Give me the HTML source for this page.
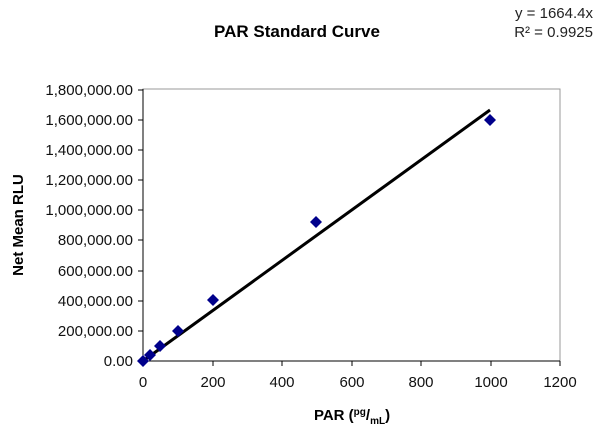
<!DOCTYPE html><html><head><style>body{margin:0;background:#fff}</style></head><body>
<svg width="600" height="431" xmlns="http://www.w3.org/2000/svg" font-family="Liberation Sans, Arial, sans-serif">
<rect width="600" height="431" fill="#fff"/>
<text x="297" y="37" font-size="17" font-weight="bold" text-anchor="middle">PAR Standard Curve</text>
<text x="593" y="18" font-size="15" text-anchor="end" fill="#222">y = 1664.4x</text>
<text x="593" y="37" font-size="15" text-anchor="end" fill="#222">R² = 0.9925</text>
<rect x="143" y="89" width="417" height="272" fill="none" stroke="#999" stroke-width="1"/>
<g stroke="#000" stroke-width="1">
<line x1="143" y1="89" x2="143" y2="361"/><line x1="143" y1="361" x2="560" y2="361"/>
<line x1="138" y1="361" x2="143" y2="361"/><line x1="138" y1="331" x2="143" y2="331"/><line x1="138" y1="301" x2="143" y2="301"/><line x1="138" y1="271" x2="143" y2="271"/><line x1="138" y1="240" x2="143" y2="240"/><line x1="138" y1="210" x2="143" y2="210"/><line x1="138" y1="180" x2="143" y2="180"/><line x1="138" y1="150" x2="143" y2="150"/><line x1="138" y1="120" x2="143" y2="120"/><line x1="138" y1="90" x2="143" y2="90"/>
<line x1="143" y1="361" x2="143" y2="366"/><line x1="213" y1="361" x2="213" y2="366"/><line x1="282" y1="361" x2="282" y2="366"/><line x1="352" y1="361" x2="352" y2="366"/><line x1="421" y1="361" x2="421" y2="366"/><line x1="491" y1="361" x2="491" y2="366"/><line x1="560" y1="361" x2="560" y2="366"/>
</g>
<g font-size="15" text-anchor="end" fill="#111">
<text x="133" y="366">0.00</text><text x="133" y="336">200,000.00</text><text x="133" y="306">400,000.00</text><text x="133" y="276">600,000.00</text><text x="133" y="245">800,000.00</text><text x="133" y="215">1,000,000.00</text><text x="133" y="185">1,200,000.00</text><text x="133" y="155">1,400,000.00</text><text x="133" y="125">1,600,000.00</text><text x="133" y="95">1,800,000.00</text>
</g>
<g font-size="15" text-anchor="middle" fill="#111">
<text x="143" y="387">0</text><text x="213" y="387">200</text><text x="282" y="387">400</text><text x="352" y="387">600</text><text x="421" y="387">800</text><text x="491" y="387">1000</text><text x="560" y="387">1200</text>
</g>
<text x="352" y="420" font-size="15" font-weight="bold" text-anchor="middle">PAR (<tspan font-size="10" dy="-5">pg</tspan><tspan dy="5">/</tspan><tspan font-size="10" dy="4">mL</tspan><tspan dy="-4">)</tspan></text>
<text transform="translate(23,225) rotate(-90)" font-size="15" font-weight="bold" text-anchor="middle">Net Mean RLU</text>
<line x1="143" y1="361" x2="490" y2="110" stroke="#000" stroke-width="3"/>
<g fill="#00008b">
<path d="M143 355l6 6-6 6-6-6z"/><path d="M150 349l6 6-6 6-6-6z"/><path d="M160 340l6 6-6 6-6-6z"/><path d="M178 325l6 6-6 6-6-6z"/><path d="M213 294l6 6-6 6-6-6z"/><path d="M316 216l6 6-6 6-6-6z"/><path d="M490 114l6 6-6 6-6-6z"/>
</g>
</svg></body></html>
